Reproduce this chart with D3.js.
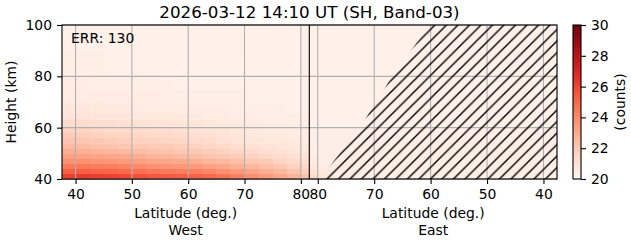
<!DOCTYPE html>
<html>
<head>
<meta charset="utf-8">
<script src="https://cdn.jsdelivr.net/npm/d3@7"></script>
<style>
    body { margin: 0; background: #fff; }
    text { font-family: "DejaVu Sans", sans-serif; fill: #000; }
</style>
</head>
<body>
<div id="chart"></div>
<script>
// latitude bin edges (deg), same for West and East, ascending
const latEdges = [37.6, 40, 42.5, 45, 47.5, 50, 52.5, 55, 57.5, 60, 62.5, 65, 67.5, 70, 72.5, 75, 77.5, 80, 81.5];
// height bin edges (km), bottom to top
const heightEdges = [40, 42, 44, 46, 48, 50, 52, 54, 56, 58, 60, 63, 66, 70, 75, 80, 90, 100];

// counts per height row (bottom -> top), columns follow latEdges
const westCounts = [
    [26.2, 26.3, 26.2, 26.1, 25.9, 25.7, 25.5, 25.4, 25.3, 25.2, 25.0, 24.7, 24.3, 23.9, 23.5, 23.1, 22.7, 22.2],
    [25.3, 25.3, 25.2, 25.1, 25.0, 24.8, 24.6, 24.5, 24.4, 24.3, 24.1, 23.8, 23.5, 23.2, 22.9, 22.6, 22.2, 21.8],
    [24.5, 24.5, 24.4, 24.3, 24.2, 24.0, 23.8, 23.7, 23.6, 23.5, 23.3, 23.1, 22.8, 22.6, 22.3, 22.0, 21.7, 21.4],
    [23.8, 23.8, 23.7, 23.6, 23.5, 23.4, 23.2, 23.1, 23.0, 22.9, 22.7, 22.5, 22.3, 22.1, 21.9, 21.6, 21.4, 21.2],
    [23.3, 23.3, 23.2, 23.1, 23.0, 22.9, 22.7, 22.6, 22.5, 22.4, 22.2, 22.0, 21.9, 21.7, 21.5, 21.3, 21.1, 21.0],
    [22.9, 22.8, 22.7, 22.6, 22.5, 22.4, 22.3, 22.2, 22.1, 22.0, 21.9, 21.7, 21.5, 21.4, 21.2, 21.1, 20.9, 20.8],
    [22.5, 22.4, 22.3, 22.2, 22.1, 22.0, 21.9, 21.9, 21.8, 21.7, 21.5, 21.4, 21.2, 21.1, 21.0, 20.9, 20.8, 20.7],
    [22.2, 22.1, 22.0, 21.9, 21.8, 21.7, 21.7, 21.6, 21.5, 21.4, 21.3, 21.1, 21.0, 20.9, 20.8, 20.8, 20.7, 20.6],
    [21.9, 21.8, 21.7, 21.6, 21.6, 21.5, 21.4, 21.4, 21.3, 21.2, 21.1, 21.0, 20.9, 20.8, 20.7, 20.7, 20.6, 20.6],
    [21.6, 21.6, 21.5, 21.4, 21.4, 21.3, 21.2, 21.2, 21.1, 21.0, 20.9, 20.9, 20.8, 20.7, 20.6, 20.6, 20.5, 20.5],
    [21.3, 21.3, 21.2, 21.2, 21.1, 21.1, 21.0, 21.0, 20.9, 20.9, 20.8, 20.7, 20.7, 20.6, 20.5, 20.5, 20.5, 20.4],
    [21.0, 21.0, 20.9, 20.9, 20.9, 20.8, 20.8, 20.8, 20.7, 20.7, 20.6, 20.6, 20.5, 20.5, 20.4, 20.4, 20.4, 20.4],
    [20.8, 20.8, 20.7, 20.7, 20.7, 20.6, 20.6, 20.6, 20.6, 20.5, 20.5, 20.5, 20.4, 20.4, 20.4, 20.4, 20.3, 20.3],
    [20.6, 20.6, 20.6, 20.5, 20.5, 20.5, 20.5, 20.4, 20.4, 20.4, 20.4, 20.4, 20.4, 20.3, 20.3, 20.3, 20.3, 20.3],
    [20.5, 20.5, 20.4, 20.4, 20.4, 20.4, 20.4, 20.4, 20.3, 20.3, 20.3, 20.3, 20.3, 20.3, 20.3, 20.3, 20.3, 20.3],
    [20.4, 20.4, 20.4, 20.3, 20.3, 20.3, 20.3, 20.3, 20.3, 20.3, 20.3, 20.3, 20.3, 20.3, 20.3, 20.3, 20.3, 20.3],
    [20.3, 20.3, 20.3, 20.3, 20.25, 20.25, 20.25, 20.25, 20.25, 20.25, 20.25, 20.25, 20.25, 20.25, 20.25, 20.25, 20.25, 20.25]
];

const eastCounts = [
    [20.4, 20.4, 20.4, 20.4, 20.4, 20.4, 20.4, 20.4, 20.4, 20.4, 20.4, 20.4, 20.4, 20.4, 20.5, 20.6, 20.9, 21.4],
    [20.4, 20.4, 20.4, 20.4, 20.4, 20.4, 20.4, 20.4, 20.4, 20.4, 20.4, 20.4, 20.4, 20.4, 20.4, 20.5, 20.7, 21.0],
    [20.4, 20.4, 20.4, 20.4, 20.4, 20.4, 20.4, 20.4, 20.4, 20.4, 20.4, 20.4, 20.4, 20.4, 20.4, 20.4, 20.5, 20.8],
    [20.4, 20.4, 20.4, 20.4, 20.4, 20.4, 20.4, 20.4, 20.4, 20.4, 20.4, 20.4, 20.4, 20.4, 20.4, 20.4, 20.4, 20.6],
    [20.4, 20.4, 20.4, 20.4, 20.4, 20.4, 20.4, 20.4, 20.4, 20.4, 20.4, 20.4, 20.4, 20.4, 20.4, 20.4, 20.4, 20.5],
    [20.4, 20.4, 20.4, 20.4, 20.4, 20.4, 20.4, 20.4, 20.4, 20.4, 20.4, 20.4, 20.4, 20.4, 20.4, 20.4, 20.4, 20.4],
    [20.4, 20.4, 20.4, 20.4, 20.4, 20.4, 20.4, 20.4, 20.4, 20.4, 20.4, 20.4, 20.4, 20.4, 20.4, 20.4, 20.4, 20.4],
    [20.4, 20.4, 20.4, 20.4, 20.4, 20.4, 20.4, 20.4, 20.4, 20.4, 20.4, 20.4, 20.4, 20.4, 20.4, 20.4, 20.4, 20.4],
    [20.35, 20.35, 20.35, 20.35, 20.35, 20.35, 20.35, 20.35, 20.35, 20.35, 20.35, 20.35, 20.35, 20.35, 20.35, 20.35, 20.35, 20.35],
    [20.35, 20.35, 20.35, 20.35, 20.35, 20.35, 20.35, 20.35, 20.35, 20.35, 20.35, 20.35, 20.35, 20.35, 20.35, 20.35, 20.35, 20.35],
    [20.3, 20.3, 20.3, 20.3, 20.3, 20.3, 20.3, 20.3, 20.3, 20.3, 20.3, 20.3, 20.3, 20.3, 20.3, 20.3, 20.3, 20.3],
    [20.3, 20.3, 20.3, 20.3, 20.3, 20.3, 20.3, 20.3, 20.3, 20.3, 20.3, 20.3, 20.3, 20.3, 20.3, 20.3, 20.3, 20.3],
    [20.3, 20.3, 20.3, 20.3, 20.3, 20.3, 20.3, 20.3, 20.3, 20.3, 20.3, 20.3, 20.3, 20.3, 20.3, 20.3, 20.3, 20.3],
    [20.3, 20.3, 20.3, 20.3, 20.3, 20.3, 20.3, 20.3, 20.3, 20.3, 20.3, 20.3, 20.3, 20.3, 20.3, 20.3, 20.3, 20.3],
    [20.3, 20.3, 20.3, 20.3, 20.3, 20.3, 20.3, 20.3, 20.3, 20.3, 20.3, 20.3, 20.3, 20.3, 20.3, 20.3, 20.3, 20.3],
    [20.25, 20.25, 20.25, 20.25, 20.25, 20.25, 20.25, 20.25, 20.25, 20.25, 20.25, 20.25, 20.25, 20.25, 20.25, 20.25, 20.25, 20.25],
    [20.25, 20.25, 20.25, 20.25, 20.25, 20.25, 20.25, 20.25, 20.25, 20.25, 20.25, 20.25, 20.25, 20.25, 20.25, 20.25, 20.25, 20.25]
];

// East side: no-data (hatched) region boundary, per height
const maskHeights = [40, 50, 60, 70, 80, 90, 100];
const maskLats = [79.6, 76.1, 72.5, 69.7, 66.8, 63.5, 60.1];

const latTicks = [40, 50, 60, 70, 80];
const heightTicks = [40, 60, 80, 100];
const countTicks = [20, 22, 24, 26, 28, 30];
const errValue = 130;
const titleText = '2026-03-12 14:10 UT (SH, Band-03)';

const W = 631, H = 243;
const pL = 62, pSplit = 309.3, pR = 557, pT = 25, pB = 179;
const latMin = 37.6, latPole = 81.5;

const svg = d3.select('#chart')
    .append('svg')
    .attr('width', W)
    .attr('height', H);

const xW = d3.scaleLinear().domain([latMin, latPole]).range([pL, pSplit]);
const xE = d3.scaleLinear().domain([latPole, latMin]).range([pSplit, pR]);
const y = d3.scaleLinear().domain([40, 100]).range([pB, pT]);
const color = d3.scaleSequential(d3.interpolateReds).domain([20, 30]);

// flatten grids into cells
function cells(grid, xs) {
    const out = [];
    grid.forEach((row, i) => {
        row.forEach((v, j) => {
            const xa = xs(latEdges[j]), xb = xs(latEdges[j + 1]);
            out.push({
                x: Math.min(xa, xb),
                w: Math.abs(xb - xa),
                y: y(heightEdges[i + 1]),
                h: y(heightEdges[i]) - y(heightEdges[i + 1]),
                v: v
            });
        });
    });
    return out;
}

const heat = svg.append('g').attr('shape-rendering', 'crispEdges');
heat.selectAll('.cell')
    .data(cells(westCounts, xW).concat(cells(eastCounts, xE)))
    .enter()
    .append('rect')
    .attr('class', 'cell')
    .attr('x', d => d.x)
    .attr('y', d => d.y)
    .attr('width', d => d.w + 0.5)
    .attr('height', d => d.h + 0.5)
    .attr('fill', d => color(d.v));

// grid
const grid = svg.append('g')
    .attr('stroke', '#b0b0b0')
    .attr('stroke-width', 1.1);
latTicks.forEach(t => {
    grid.append('line').attr('x1', xW(t)).attr('x2', xW(t)).attr('y1', pT).attr('y2', pB);
    grid.append('line').attr('x1', xE(t)).attr('x2', xE(t)).attr('y1', pT).attr('y2', pB);
});
heightTicks.forEach(t => {
    grid.append('line').attr('x1', pL).attr('x2', pR).attr('y1', y(t)).attr('y2', y(t));
});

// hatched no-data region
const defs = svg.append('defs');
const hs = 11.5;
defs.append('pattern')
    .attr('id', 'hatch')
    .attr('patternUnits', 'userSpaceOnUse')
    .attr('width', hs)
    .attr('height', hs)
    .append('path')
    .attr('d', `M-1,1L1,-1M0,${hs}L${hs},0M${hs - 1},${hs + 1}L${hs + 1},${hs - 1}`)
    .attr('stroke', '#000')
    .attr('stroke-width', 1.4);
defs.append('clipPath').attr('id', 'plotclip')
    .append('rect')
    .attr('x', pL).attr('y', pT)
    .attr('width', pR - pL).attr('height', pB - pT);

const maskPts = maskHeights.map((h, i) => [xE(maskLats[i]), y(h)]);
maskPts.push([xE(latMin), y(100)], [xE(latMin), y(40)]);
svg.append('path')
    .attr('clip-path', 'url(#plotclip)')
    .attr('d', d3.line()(maskPts) + 'Z')
    .attr('fill', 'url(#hatch)');

// frame and West/East divider
svg.append('rect')
    .attr('x', pL).attr('y', pT)
    .attr('width', pR - pL).attr('height', pB - pT)
    .attr('fill', 'none')
    .attr('stroke', '#000')
    .attr('stroke-width', 1.1);
svg.append('line')
    .attr('x1', pSplit).attr('x2', pSplit)
    .attr('y1', pT).attr('y2', pB)
    .attr('stroke', '#000')
    .attr('stroke-width', 1.1);

// axes
function styleAxis(g) {
    g.select('.domain').remove();
    g.selectAll('.tick line').attr('stroke', '#000').attr('stroke-width', 1.1);
    g.selectAll('.tick text')
        .style('font-family', '"DejaVu Sans", sans-serif')
        .style('font-size', '13.9px')
        .attr('fill', '#000');
}

svg.append('g')
    .attr('transform', `translate(0,${pB})`)
    .call(d3.axisBottom(xW).tickValues(latTicks).tickSize(5).tickPadding(5))
    .call(styleAxis);
svg.append('g')
    .attr('transform', `translate(0,${pB})`)
    .call(d3.axisBottom(xE).tickValues(latTicks).tickSize(5).tickPadding(5))
    .call(styleAxis);
svg.append('g')
    .attr('transform', `translate(${pL},0)`)
    .call(d3.axisLeft(y).tickValues(heightTicks).tickSize(5).tickPadding(5))
    .call(styleAxis);

const labelSize = '13.9px';
[['West', (pL + pSplit) / 2], ['East', (pSplit + pR) / 2]].forEach(([side, cx]) => {
    svg.append('text')
        .attr('x', cx).attr('y', 218)
        .attr('text-anchor', 'middle')
        .style('font-size', labelSize)
        .text('Latitude (deg.)');
    svg.append('text')
        .attr('x', cx).attr('y', 235)
        .attr('text-anchor', 'middle')
        .style('font-size', labelSize)
        .text(side);
});

svg.append('text')
    .attr('transform', `translate(16,${(pT + pB) / 2}) rotate(-90)`)
    .attr('text-anchor', 'middle')
    .style('font-size', labelSize)
    .text('Height (km)');

svg.append('text')
    .attr('x', (pL + pR) / 2).attr('y', 18)
    .attr('text-anchor', 'middle')
    .style('font-size', '16.7px')
    .text(titleText);

svg.append('text')
    .attr('x', 71).attr('y', 43)
    .style('font-size', labelSize)
    .text(`ERR: ${errValue}`);

// colorbar
const cbX = 573, cbW = 8;
const cy = d3.scaleLinear().domain([20, 30]).range([pB, pT]);
const grad = defs.append('linearGradient')
    .attr('id', 'cbgrad')
    .attr('x1', 0).attr('y1', 1).attr('x2', 0).attr('y2', 0);
d3.range(0, 1.0001, 0.05).forEach(t => {
    grad.append('stop')
        .attr('offset', t)
        .attr('stop-color', color(20 + t * 10));
});
svg.append('rect')
    .attr('x', cbX).attr('y', pT)
    .attr('width', cbW).attr('height', pB - pT)
    .attr('fill', 'url(#cbgrad)')
    .attr('stroke', '#000')
    .attr('stroke-width', 1.1);
svg.append('g')
    .attr('transform', `translate(${cbX + cbW},0)`)
    .call(d3.axisRight(cy).tickValues(countTicks).tickSize(5).tickPadding(5))
    .call(styleAxis);
svg.append('text')
    .attr('transform', `translate(625,${(pT + pB) / 2}) rotate(-90)`)
    .attr('text-anchor', 'middle')
    .style('font-size', labelSize)
    .text('(counts)');
</script>
</body>
</html>
